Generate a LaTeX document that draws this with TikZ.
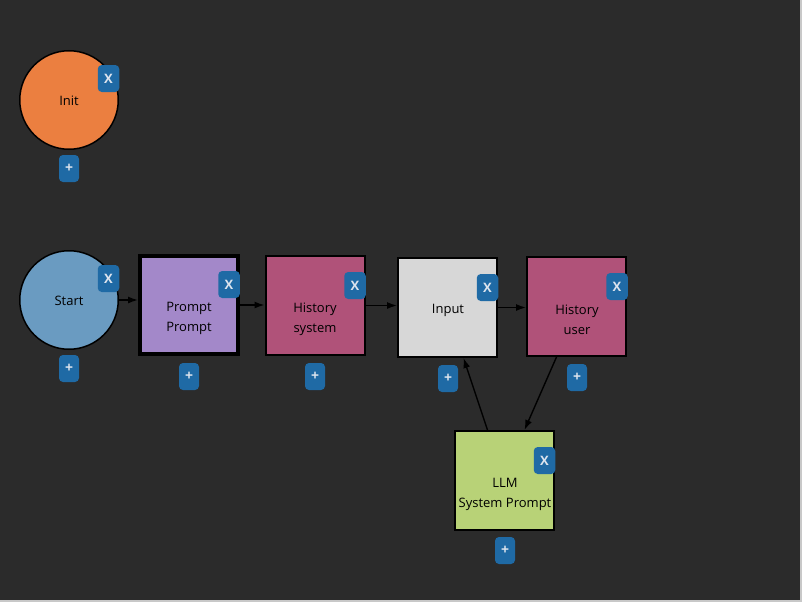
\documentclass[tikz,border=0pt]{standalone}
\usepackage{fontspec}
\setmainfont{Open Sans}
\usetikzlibrary{arrows,arrows.meta}
\definecolor{bg}{RGB}{43,43,43}
\definecolor{edge}{RGB}{200,200,200}
\definecolor{btn}{RGB}{31,106,165}
\definecolor{btntxt}{RGB}{220,228,238}
\definecolor{orng}{RGB}{235,127,64}
\definecolor{sblue}{RGB}{106,155,193}
\definecolor{lila}{RGB}{163,136,201}
\definecolor{rose}{RGB}{176,82,121}
\definecolor{lgray}{RGB}{215,215,215}
\definecolor{lgreen}{RGB}{184,210,119}
\begin{document}
\begin{tikzpicture}[x=1pt,y=-1pt,
 circ/.style={circle,draw=black,line width=1.5pt,minimum size=98.5pt,inner sep=0pt},
 box/.style={rectangle,draw=black,line width=2pt,minimum size=99pt,inner sep=0pt},
 txt/.style={align=center,text=black,font=\fontsize{13}{20}\selectfont},
 xb/.style={fill=btn,rounded corners=4pt,minimum width=21.5pt,minimum height=27pt,inner sep=0pt,text=btntxt,font=\fontsize{13}{13}\selectfont\bfseries},
 pb/.style={xb,minimum width=20pt,font=\fontsize{14}{14}\selectfont\bfseries},
 ar/.style={-{Latex[length=10pt,width=7pt]},line width=1.4pt,black}]
\fill[edge](0,0)rectangle(802,602);
\fill[bg](0,0)rectangle(800,600);
\useasboundingbox(0,0)rectangle(802,602);
\node[circ,fill=orng](Init)at(69,100){};
\node[circ,fill=sblue](Start)at(69,300){};
\node[box,fill=lila,line width=4pt,minimum size=98pt](Prompt)at(189,305){};
\node[box,fill=rose](HistS)at(315,305.5){};
\node[box,fill=lgray](Input)at(447.5,307.5){};
\node[box,fill=rose](HistU)at(576.5,306.5){};
\node[box,fill=lgreen](LLM)at(504.5,480.5){};
\node[txt](tInit)at(69,101){Init};
\node[txt](tStart)at(69,301){Start};
\node[txt](tPrompt)at(189,318){Prompt\\Prompt};
\node[txt](tHistS)at(315,319){History\\system};
\node[txt](tInput)at(448,310.5){Input};
\node[txt](tHistU)at(577,319.5){History\\user};
\node[txt](tLLM)at(505,494){LLM\\System Prompt};
\node[xb](xInit)at(108.5,78.5){X};
\node[xb](xStart)at(108.5,278.5){X};
\node[xb](xPrompt)at(229,284.5){X};
\node[xb](xHistS)at(355,285.5){X};
\node[xb](xInput)at(487.5,287.5){X};
\node[xb](xHistU)at(617,286.5){X};
\node[xb](xLLM)at(544.5,460.5){X};
\node[pb](pInit)at(69,168.5){+};
\node[pb](pStart)at(69,368.5){+};
\node[pb](pPrompt)at(189,376.5){+};
\node[pb](pHistS)at(315,376.5){+};
\node[pb](pInput)at(448,378.5){+};
\node[pb](pHistU)at(577,377.5){+};
\node[pb](pLLM)at(505,550.5){+};
\draw[ar](Start.east)--(Start.east-|Prompt.west);
\draw[ar](Prompt.east)--(Prompt.east-|HistS.west);
\draw[ar](HistS.east)--(HistS.east-|Input.west);
\draw[ar](Input.east)--(Input.east-|HistU.west);
\draw[ar]([xshift=-20pt]HistU.south)--([xshift=20pt]LLM.north);
\draw[ar]([xshift=-17pt]LLM.north)--([xshift=16pt]Input.south);
\end{tikzpicture}
\end{document}
